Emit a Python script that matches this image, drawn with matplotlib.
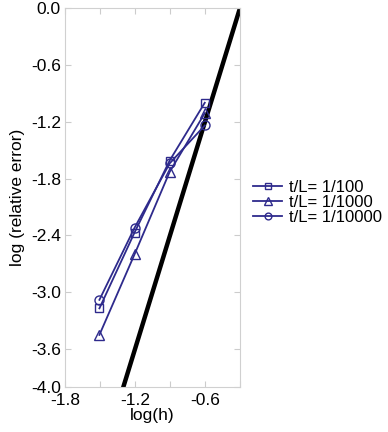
import matplotlib
matplotlib.use("Agg")
import matplotlib.pyplot as plt
import numpy as np

plt.rcParams['font.family'] = ['Liberation Sans', 'DejaVu Sans']

# log(h) for h = 1/32, 1/16, 1/8, 1/4
log_h = [-1.505, -1.204, -0.903, -0.602]
err_100 = [-3.17, -2.37, -1.61, -1.00]
err_1000 = [-3.45, -2.60, -1.73, -1.11]
err_10000 = [-3.08, -2.32, -1.64, -1.24]
ref_x = [-1.3, -0.3]
ref_y = [-4.0, 0.0]

blue = '#2e2a8c'

fig = plt.figure(figsize=(3.88, 4.32), dpi=100)
ax = fig.add_axes([65/388, 1 - 387/432, 175/388, 379/432])

ax.plot(ref_x, ref_y, color='black', lw=3.2, zorder=1)
ax.plot(log_h, err_100, color=blue, marker='s', mfc='none', ms=6, lw=1.3, label='t/L= 1/100', zorder=2)
ax.plot(log_h, err_1000, color=blue, marker='^', mfc='none', ms=7, lw=1.3, label='t/L= 1/1000', zorder=2)
ax.plot(log_h, err_10000, color=blue, marker='o', mfc='none', ms=6.5, lw=1.3, label='t/L= 1/10000', zorder=2)

ax.set_xlim(-1.8, -0.3)
ax.set_ylim(-4.0, 0.0)
ax.set_xticks([-1.8, -1.5, -1.2, -0.9, -0.6, -0.3])
ax.set_xticklabels(['-1.8', '', '-1.2', '', '-0.6', ''])
ax.set_yticks([0.0, -0.6, -1.2, -1.8, -2.4, -3.0, -3.6, -4.0])
ax.set_yticklabels(['0.0', '-0.6', '-1.2', '-1.8', '-2.4', '-3.0', '-3.6', '-4.0'])
ax.tick_params(direction='in', top=True, right=True, length=4, color='#cccccc', labelsize=12.5)
ax.tick_params(axis='x', pad=4)
ax.tick_params(axis='y', pad=3)
for s in ax.spines.values():
    s.set_color('#d0d0d0')
    s.set_linewidth(0.8)

ax.set_xlabel('log(h)', fontsize=12.5, labelpad=0.5)
ax.set_ylabel('log (relative error)', fontsize=12.5, labelpad=4)

ax.legend(loc='center left', bbox_to_anchor=(1.0, 0.486), frameon=False, fontsize=12,
          handlelength=1.7, handletextpad=0.45, labelspacing=0.0, borderaxespad=0.4,
          markerscale=0.75)

fig.savefig('out.png', dpi=100)
